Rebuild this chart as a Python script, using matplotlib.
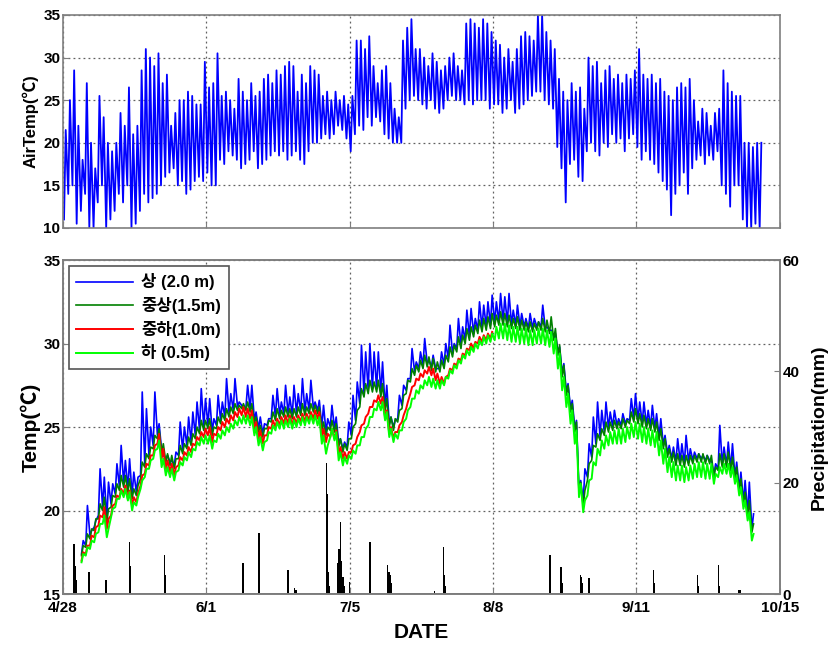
import numpy as np
import matplotlib
matplotlib.use("Agg")
import matplotlib.pyplot as plt

plt.rcParams['font.family'] = ['Liberation Sans', 'Noto Sans CJK KR', 'DejaVu Sans']
plt.rcParams['font.weight'] = 'bold'

# ---- data (days counted from 4/28) ----
date_ticks = [0, 34, 68, 102, 136, 170]
date_labels = ['4/28', '6/1', '7/5', '8/8', '9/11', '10/15']

# daily air temperature, max and min (days 0..165)
air_max = [21.5, 25, 28.5, 22, 18, 27, 20, 17, 25.5, 23,
           20, 19, 20, 23.5, 22, 26.5, 21, 22, 28.5, 31,
           30, 29, 30.5, 27, 28, 22, 23.5, 25, 25, 26,
           25.5, 24.5, 24.5, 29.5, 26.5, 27, 30.5, 25.5, 26, 25,
           24, 27.5, 26, 25, 27, 25.5, 26, 27.5, 28, 27,
           28.5, 28, 29, 29.5, 29, 26, 28, 27, 29, 28.5,
           28, 25.5, 26, 25, 26, 25, 25.5, 24.5, 25.5, 32,
           32, 31, 32.5, 29, 27, 28.5, 29, 27, 24, 23,
           32, 33.5, 34.5, 31, 31, 30, 29, 30.5, 29.5, 28.5,
           29, 30, 30.5, 29, 28.5, 34, 34.5, 34, 33.5, 34.5,
           34, 33, 32, 31.5, 30, 31, 29.5, 31, 32.5, 33,
           32.5, 32, 35, 35, 33, 32, 31, 27.5, 26, 25,
           27, 26, 26.5, 24, 30, 29, 29.5, 27, 28.5, 29,
           27.5, 28, 27, 28, 27.5, 28.5, 31, 28, 27.5, 28,
           27, 27.5, 26, 25.5, 25, 26.5, 27, 26.5, 27.5, 25,
           22.5, 24, 23.5, 22, 23.5, 24, 28.5, 27, 26, 25.5,
           25.5, 20, 20, 19.5, 20, 20]
air_min = [11, 14, 15, 10.5, 12, 14, 10, 10, 13, 15,
           10, 11, 12, 14, 13, 15, 10, 10.5, 12, 14,
           13, 13.5, 14, 15, 16, 16.5, 17, 15, 15.5, 14,
           14.5, 15.5, 16, 15.5, 16.5, 15, 15, 18, 17.5, 19,
           18.5, 18, 17, 17.5, 18, 19, 17, 17.5, 18, 18.5,
           19, 18.5, 19, 18, 18.5, 19, 18, 17.5, 19, 20,
           20, 20.5, 21, 20.5, 21, 22, 21.5, 20.5, 19, 21,
           22, 21.5, 23, 22, 23, 22.5, 21, 20.5, 20, 20,
           20, 24, 25, 25.5, 25, 24.5, 24, 25, 24, 23.5,
           24, 25, 25.5, 25, 25, 24.5, 25, 24.5, 25, 25,
           25, 24, 24.5, 24.5, 23.5, 24, 25, 23.5, 24, 24.5,
           25, 25.5, 26, 26, 25, 24.5, 24, 19.5, 17, 13,
           17.5, 18, 16, 15.5, 19, 20, 19, 18.5, 20, 19.5,
           21, 20, 20.5, 19, 20.5, 21, 19.5, 18, 19, 18,
           17.5, 16.5, 15.5, 14.5, 11.5, 14, 15, 16.5, 14, 17,
           18, 18.5, 17.5, 18.5, 18, 19, 15, 14, 12.5, 15,
           15, 11, 10, 10, 10.5, 10]

# daily max/min of the compost temperature at four depths (from day 4.4)
blue_hi = [18.2, 20.3, 18.8, 19.4, 22.5, 22.0, 21.7, 21.6, 22.8, 23.9,
           23.0, 23.1, 22.3, 22.0, 27.1, 26.1, 25.0, 27.1, 25.2, 23.3,
           23.3, 23.0, 23.5, 25.3, 25.0, 25.6, 25.9, 26.5, 27.3, 26.7,
           26.7, 25.5, 26.9, 26.5, 27.9, 27.0, 27.9, 26.5, 26.0, 27.5,
           27.5, 25.9, 25.6, 25.2, 25.5, 26.9, 27.3, 26.5, 27.5, 26.8,
           27.5, 27.0, 27.9, 27.0, 27.8, 26.5, 26.6, 26.3, 25.5, 26.3,
           25.6, 24.3, 24.1, 25.3, 26.9, 27.7, 29.9, 29.5, 30.0, 29.5,
           29.5, 28.9, 27.5, 25.6, 25.4, 26.9, 27.5, 27.9, 29.7, 28.9,
           29.5, 30.3, 29.0, 29.3, 28.5, 29.5, 30.0, 31.1, 30.0, 31.5,
           31.0, 32.0, 32.1, 31.5, 32.5, 32.3, 32.5, 32.9, 32.5, 33.0,
           32.8, 33.0, 32.0, 32.3, 31.8, 31.5, 31.8, 31.5, 31.3, 32.3,
           31.0, 30.8, 30.6, 29.8, 28.8, 27.6, 26.6, 25.4, 21.8, 22.5,
           24.0, 25.6, 26.5, 26.0, 26.5, 25.9, 26.0, 25.5, 25.8, 25.5,
           26.7, 27.0, 26.5, 26.5, 26.0, 26.3, 25.8, 25.5, 24.5, 23.9,
           23.8, 24.3, 24.0, 24.5, 23.7, 23.5, 23.4, 23.3, 23.3, 23.0,
           22.8, 25.1, 23.8, 24.1, 24.0, 22.9, 22.3, 21.8, 21.7, 19.8]
blue_lo = [17.4, 17.9, 18.5, 19.0, 19.7, 20.2, 19.5, 20.4, 21.0, 21.4,
           21.6, 21.3, 20.9, 21.1, 22.1, 22.8, 23.3, 23.9, 24.5, 23.6,
           23.1, 22.9, 22.7, 23.3, 23.6, 23.9, 24.1, 24.5, 24.8, 25.0,
           25.1, 24.7, 25.1, 25.4, 25.6, 25.8, 26.0, 26.2, 26.3, 26.2,
           26.1, 25.4, 24.9, 24.6, 25.1, 25.5, 25.6, 25.7, 25.8, 25.8,
           25.7, 25.8, 25.9, 25.9, 26.0, 26.1, 26.0, 25.0, 24.7, 25.0,
           24.9, 24.0, 23.7, 23.8, 24.5, 25.4, 26.4, 27.0, 27.2, 27.3,
           27.3, 27.0, 26.2, 25.2, 25.0, 25.5, 26.3, 27.2, 27.9, 28.3,
           28.5, 28.7, 28.8, 28.6, 28.5, 28.5, 28.7, 29.1, 29.4, 29.7,
           29.9, 30.2, 30.4, 30.6, 30.8, 30.9, 31.0, 31.1, 31.2, 31.3,
           31.3, 31.2, 31.1, 31.1, 31.0, 31.0, 30.9, 30.9, 31.0, 31.0,
           30.9, 30.8, 30.4, 29.5, 28.2, 27.1, 26.1, 24.9, 21.2, 20.5,
           22.0, 23.2, 24.0, 24.4, 24.7, 24.9, 25.0, 25.1, 25.1, 25.2,
           25.4, 25.5, 25.4, 25.2, 25.1, 25.0, 24.9, 24.4, 23.9, 23.4,
           23.1, 22.9, 22.9, 22.8, 22.9, 23.0, 23.1, 23.1, 23.0, 23.0,
           22.1, 22.5, 22.7, 22.7, 22.5, 22.0, 21.3, 20.5, 19.8, 18.9]
dg_hi = [17.9, 18.6, 18.9, 19.5, 20.4, 20.8, 20.1, 20.9, 21.6, 22.1,
         22.1, 21.9, 21.3, 21.5, 22.9, 23.4, 23.8, 24.5, 24.9, 24.0,
         23.4, 23.3, 23.1, 23.9, 24.0, 24.4, 24.6, 25.0, 25.4, 25.4,
         25.5, 25.0, 25.6, 25.8, 26.1, 26.2, 26.4, 26.3, 26.4, 26.5,
         26.4, 25.6, 25.1, 24.9, 25.4, 25.9, 26.1, 26.0, 26.2, 26.1,
         26.1, 26.2, 26.4, 26.2, 26.4, 26.3, 26.2, 25.3, 25.0, 25.4,
         25.2, 24.3, 24.0, 24.3, 25.0, 26.0, 27.3, 27.6, 27.8, 27.7,
         27.8, 27.6, 26.7, 25.6, 25.5, 26.0, 26.9, 27.8, 28.5, 28.7,
         29.0, 29.3, 29.2, 29.1, 28.9, 29.0, 29.3, 29.8, 29.9, 30.4,
         30.5, 30.9, 31.0, 31.1, 31.4, 31.5, 31.6, 31.8, 31.7, 31.9,
         31.8, 31.7, 31.5, 31.6, 31.4, 31.3, 31.3, 31.2, 31.3, 31.5,
         31.4, 31.6, 30.9, 29.9, 28.7, 27.5, 26.4, 25.3, 21.7, 21.2,
         22.8, 23.9, 24.6, 24.9, 25.3, 25.3, 25.4, 25.3, 25.5, 25.4,
         25.9, 26.1, 25.8, 25.7, 25.5, 25.5, 25.3, 24.9, 24.3, 23.7,
         23.5, 23.4, 23.3, 23.3, 23.3, 23.3, 23.4, 23.4, 23.3, 23.3,
         22.6, 23.4, 23.4, 23.5, 23.2, 22.6, 21.9, 21.1, 20.6, 19.2]
dg_lo = [17.3, 17.8, 18.3, 18.8, 19.5, 20.0, 19.3, 20.2, 20.8, 21.2,
         21.4, 21.1, 20.7, 20.9, 21.9, 22.6, 23.1, 23.7, 24.3, 23.4,
         22.9, 22.7, 22.5, 23.1, 23.4, 23.7, 23.9, 24.3, 24.6, 24.8,
         24.9, 24.5, 24.9, 25.2, 25.4, 25.6, 25.8, 26.0, 26.1, 26.0,
         25.9, 25.2, 24.7, 24.4, 24.9, 25.3, 25.4, 25.5, 25.6, 25.6,
         25.5, 25.6, 25.7, 25.7, 25.8, 25.9, 25.8, 24.8, 24.5, 24.8,
         24.7, 23.8, 23.5, 23.6, 24.3, 25.2, 26.2, 26.8, 27.0, 27.1,
         27.1, 26.8, 26.0, 25.0, 24.8, 25.3, 26.1, 27.0, 27.7, 28.1,
         28.3, 28.5, 28.6, 28.4, 28.3, 28.3, 28.5, 28.9, 29.2, 29.5,
         29.7, 30.0, 30.2, 30.4, 30.6, 30.7, 30.8, 30.9, 31.0, 31.1,
         31.1, 31.0, 30.9, 30.9, 30.8, 30.8, 30.7, 30.7, 30.8, 30.8,
         30.7, 30.6, 30.2, 29.3, 28.0, 26.9, 25.9, 24.7, 21.0, 20.3,
         21.8, 23.0, 23.8, 24.2, 24.5, 24.7, 24.8, 24.9, 24.9, 25.0,
         25.2, 25.3, 25.2, 25.0, 24.9, 24.8, 24.7, 24.2, 23.7, 23.2,
         22.9, 22.7, 22.7, 22.6, 22.7, 22.8, 22.9, 22.9, 22.8, 22.8,
         22.0, 22.4, 22.6, 22.6, 22.4, 21.9, 21.2, 20.4, 19.7, 18.7]
red_hi = [17.5, 17.9, 18.5, 19.0, 19.7, 20.2, 19.5, 20.3, 20.9, 21.3,
          21.5, 21.2, 20.8, 21.0, 22.1, 22.8, 23.3, 23.9, 24.6, 23.7,
          23.0, 22.8, 22.6, 23.2, 23.5, 23.8, 24.0, 24.4, 24.7, 24.9,
          25.0, 24.6, 25.0, 25.3, 25.5, 25.7, 25.9, 26.1, 26.2, 26.1,
          26.0, 25.3, 24.8, 24.5, 25.0, 25.4, 25.5, 25.6, 25.7, 25.7,
          25.6, 25.7, 25.8, 25.8, 25.9, 26.0, 25.9, 24.9, 24.6, 24.9,
          24.8, 23.8, 23.5, 23.5, 23.9, 24.4, 25.1, 25.6, 26.2, 26.6,
          26.9, 26.8, 26.0, 25.0, 24.7, 25.1, 25.7, 26.5, 27.4, 27.9,
          28.2, 28.4, 28.6, 28.5, 28.2, 28.0, 28.0, 28.5, 28.8, 29.1,
          29.4, 29.7, 30.0, 30.1, 30.4, 30.5, 30.6, 30.7]
red_lo = [17.0, 17.4, 17.9, 18.4, 19.1, 19.6, 18.9, 19.7, 20.4, 20.8,
          21.0, 20.7, 20.3, 20.5, 21.5, 22.2, 22.7, 23.3, 24.0, 23.1,
          22.5, 22.3, 22.1, 22.7, 23.0, 23.3, 23.5, 23.9, 24.2, 24.4,
          24.5, 24.1, 24.5, 24.8, 25.0, 25.2, 25.4, 25.6, 25.7, 25.6,
          25.5, 24.8, 24.3, 24.0, 24.5, 24.9, 25.0, 25.1, 25.2, 25.2,
          25.1, 25.2, 25.3, 25.3, 25.4, 25.5, 25.5, 24.4, 24.1, 24.4,
          24.3, 23.4, 23.1, 23.1, 23.5, 24.0, 24.7, 25.2, 25.8, 26.2,
          26.5, 26.4, 25.6, 24.6, 24.3, 24.7, 25.3, 26.1, 27.0, 27.5,
          27.8, 28.0, 28.2, 28.1, 27.8, 27.6, 27.6, 28.1, 28.4, 28.7,
          29.0, 29.3, 29.6, 29.7, 30.0, 30.1, 30.2, 30.3]
lg_hi = [17.4, 17.8, 18.2, 18.6, 19.2, 19.7, 18.9, 20.1, 20.7, 21.2,
         21.3, 21.1, 20.5, 20.8, 21.8, 22.5, 23.0, 23.6, 24.2, 23.1,
         22.6, 22.5, 22.3, 22.9, 23.2, 23.5, 23.7, 24.1, 24.4, 24.5,
         24.5, 24.2, 24.6, 24.8, 25.0, 25.2, 25.4, 25.6, 25.7, 25.7,
         25.6, 25.0, 24.4, 24.1, 24.7, 25.1, 25.3, 25.4, 25.4, 25.5,
         25.4, 25.5, 25.6, 25.6, 25.7, 25.7, 25.6, 24.5, 23.9, 24.9,
         24.7, 23.5, 23.2, 23.3, 23.6, 23.9, 24.4, 24.9, 25.6, 26.1,
         26.5, 26.5, 25.9, 24.9, 24.6, 24.8, 25.3, 26.0, 26.7, 27.2,
         27.5, 27.8, 28.0, 27.9, 27.8, 27.8, 28.0, 28.4, 28.7, 29.0,
         29.3, 29.6, 29.8, 30.0, 30.2, 30.4, 30.5, 30.6, 31.0, 31.2,
         31.2, 31.1, 31.0, 31.0, 30.9, 30.9, 30.8, 30.8, 30.9, 30.9,
         30.8, 30.7, 30.3, 29.4, 28.0, 27.0, 26.0, 24.8, 21.6, 20.6,
         21.8, 22.9, 23.7, 24.2, 24.5, 24.7, 24.8, 24.9, 24.9, 25.0,
         25.2, 25.3, 25.2, 25.0, 24.9, 24.8, 24.7, 24.2, 23.7, 23.2,
         22.9, 22.7, 22.7, 22.6, 22.7, 22.8, 22.9, 22.9, 22.8, 22.8,
         22.2, 22.6, 22.8, 22.8, 22.6, 22.1, 21.4, 20.6, 19.9, 18.6]
lg_lo = [16.9, 17.3, 17.7, 18.1, 18.7, 19.2, 18.4, 19.6, 20.2, 20.7,
         20.8, 20.6, 20.0, 20.3, 21.3, 22.0, 22.5, 23.1, 23.7, 22.6,
         22.1, 22.0, 21.8, 22.4, 22.7, 23.0, 23.2, 23.6, 23.9, 24.0,
         24.0, 23.7, 24.1, 24.3, 24.5, 24.7, 24.9, 25.1, 25.2, 25.2,
         25.1, 24.5, 23.9, 23.6, 24.2, 24.6, 24.8, 24.9, 24.9, 25.0,
         24.9, 25.0, 25.1, 25.1, 25.2, 25.2, 25.1, 24.0, 23.4, 24.4,
         24.2, 23.0, 22.7, 22.8, 23.1, 23.4, 23.9, 24.4, 25.1, 25.6,
         26.0, 26.0, 25.4, 24.4, 24.1, 24.3, 24.8, 25.5, 26.2, 26.7,
         27.0, 27.3, 27.5, 27.4, 27.3, 27.3, 27.5, 27.9, 28.2, 28.5,
         28.8, 29.1, 29.3, 29.5, 29.7, 29.9, 30.0, 30.1, 30.2, 30.3,
         30.3, 30.2, 30.1, 30.1, 30.0, 30.0, 29.9, 29.9, 30.0, 30.0,
         29.9, 29.8, 29.4, 28.5, 27.2, 26.2, 25.2, 24.0, 20.8, 19.9,
         20.9, 21.9, 22.7, 23.3, 23.7, 23.9, 24.0, 24.0, 24.0, 24.1,
         24.3, 24.4, 24.3, 24.1, 24.0, 23.9, 23.8, 23.3, 22.8, 22.3,
         22.0, 21.8, 21.8, 21.7, 21.8, 21.9, 22.0, 22.0, 21.9, 21.9,
         21.6, 22.0, 22.2, 22.2, 22.0, 21.6, 20.9, 20.1, 19.4, 18.2]

# hourly precipitation events: day and amount (mm)
rain_day = [2.6, 2.8, 3.0, 3.2, 6.2, 10.2, 15.7, 15.9, 16.1, 24.0, 24.2,
            42.7, 42.9, 46.5, 46.7, 53.4, 55.0, 55.3,
            62.5, 62.7, 62.9, 63.1, 65.2, 65.5, 65.8, 66.1, 66.4, 66.7, 68.0,
            72.8, 77.0, 77.3, 77.6, 77.9, 88.2, 90.2, 90.5, 90.8,
            115.5, 118.1, 118.4, 122.8, 123.0, 123.2, 124.8,
            140.1, 140.3, 150.5, 150.7, 155.4, 155.6, 160.3, 160.6]
rain_mm = [9.0, 7.0, 5.0, 2.5, 4.0, 2.5, 9.4, 5.0, 1.5, 7.0, 3.5,
           5.5, 2.5, 10.9, 5.0, 4.3, 1.1, 0.8,
           23.5, 18.0, 4.0, 1.5, 5.5, 8.0, 13.0, 6.0, 3.0, 1.5, 2.2,
           9.4, 5.2, 4.0, 3.4, 2.0, 0.5, 8.4, 3.5, 1.5,
           7.0, 4.9, 2.0, 3.4, 3.0, 2.0, 2.8,
           4.4, 2.0, 3.4, 1.5, 5.3, 1.5, 0.8, 0.8]


def zigzag(start, lo, hi):
    """Interleave daily minima (early morning) and maxima (afternoon)."""
    n = len(lo)
    d = start + np.arange(n)
    x = np.empty(2 * n)
    y = np.empty(2 * n)
    x[0::2] = d
    x[1::2] = d + 0.4
    y[0::2] = lo
    y[1::2] = hi
    return x, y


fig = plt.figure(figsize=(8.33, 6.49), dpi=100)
ax_air = fig.add_axes([0.0756, 0.6487, 0.8604, 0.3283])
ax_t = fig.add_axes([0.0756, 0.0847, 0.8604, 0.5146])

frame_col = '#7f7f7f'
grid_kw = dict(color='#606060', linestyle=(0, (1.5, 2.5)), linewidth=0.9)

def style(ax):
    for s in ax.spines.values():
        s.set_color(frame_col)
        s.set_linewidth(1.2)
    ax.tick_params(direction='in', length=4, color=frame_col,
                   labelsize=11, pad=2)
    for lab in ax.get_xticklabels() + ax.get_yticklabels():
        lab.set_fontweight('bold')

# ---- air temperature ----
xa, ya = zigzag(0.25, air_min, air_max)
ax_air.plot(xa, ya, color='#0000ff', lw=1.3)
ax_air.set_xlim(0, 170)
ax_air.set_ylim(10, 35)
ax_air.set_xticks(date_ticks)
ax_air.set_xticklabels([])
ax_air.set_yticks([10, 15, 20, 25, 30, 35])
ax_air.grid(True, **grid_kw)
ax_air.set_ylabel('AirTemp(℃)', fontsize=12, fontweight='bold', labelpad=3)
style(ax_air)

# ---- compost temperature ----
ax_r = ax_t.twinx()
x, y = zigzag(4.4, blue_lo, blue_hi)
ax_t.plot(x, y, color='#0000ff', lw=1.2, label='상 (2.0 m)')
x, y = zigzag(4.4, dg_lo, dg_hi)
ax_t.plot(x, y, color='#008000', lw=1.2, label='중상(1.5m)')
x, y = zigzag(4.4, red_lo, red_hi)
ax_t.plot(x, y, color='#ff0000', lw=1.4, label='중하(1.0m)')
x, y = zigzag(4.4, lg_lo, lg_hi)
ax_t.plot(x, y, color='#00ff00', lw=1.4, label='하 (0.5m)')

ax_t.set_xlim(0, 170)
ax_t.set_ylim(15, 35)
ax_t.set_xticks(date_ticks)
ax_t.set_xticklabels(date_labels)
ax_t.set_yticks([15, 20, 25, 30, 35])
ax_t.grid(True, **grid_kw)
ax_t.set_ylabel('Temp(℃)', fontsize=15, fontweight='bold', labelpad=2)
ax_t.set_xlabel('DATE', fontsize=15, fontweight='bold', labelpad=6)
style(ax_t)
ax_t.tick_params(axis='x', pad=5)

leg = ax_t.legend(loc='upper left', handlelength=3.4,
                  borderpad=0.45, labelspacing=0.4, handletextpad=0.5,
                  fancybox=False, framealpha=1, borderaxespad=0.35,
                  prop={'weight': 'bold', 'size': 12,
                        'family': ['Liberation Sans', 'Noto Sans CJK KR']})
leg.get_frame().set_edgecolor('#555555')
leg.get_frame().set_linewidth(1.2)

# ---- precipitation on the right axis ----
ax_r.bar(rain_day, rain_mm, width=0.3, color='black', linewidth=0)
ax_r.plot([0, xa[-1]], [0, 0], color='black', lw=1.2)
ax_r.set_ylim(0, 60)
ax_r.set_yticks([0, 20, 40, 60])
ax_r.set_ylabel('Precipitation(mm)', fontsize=14, fontweight='bold', labelpad=8)
ax_r.set_zorder(ax_t.get_zorder() - 1)
ax_t.patch.set_visible(False)
style(ax_r)

fig.savefig('out.png', dpi=100)
